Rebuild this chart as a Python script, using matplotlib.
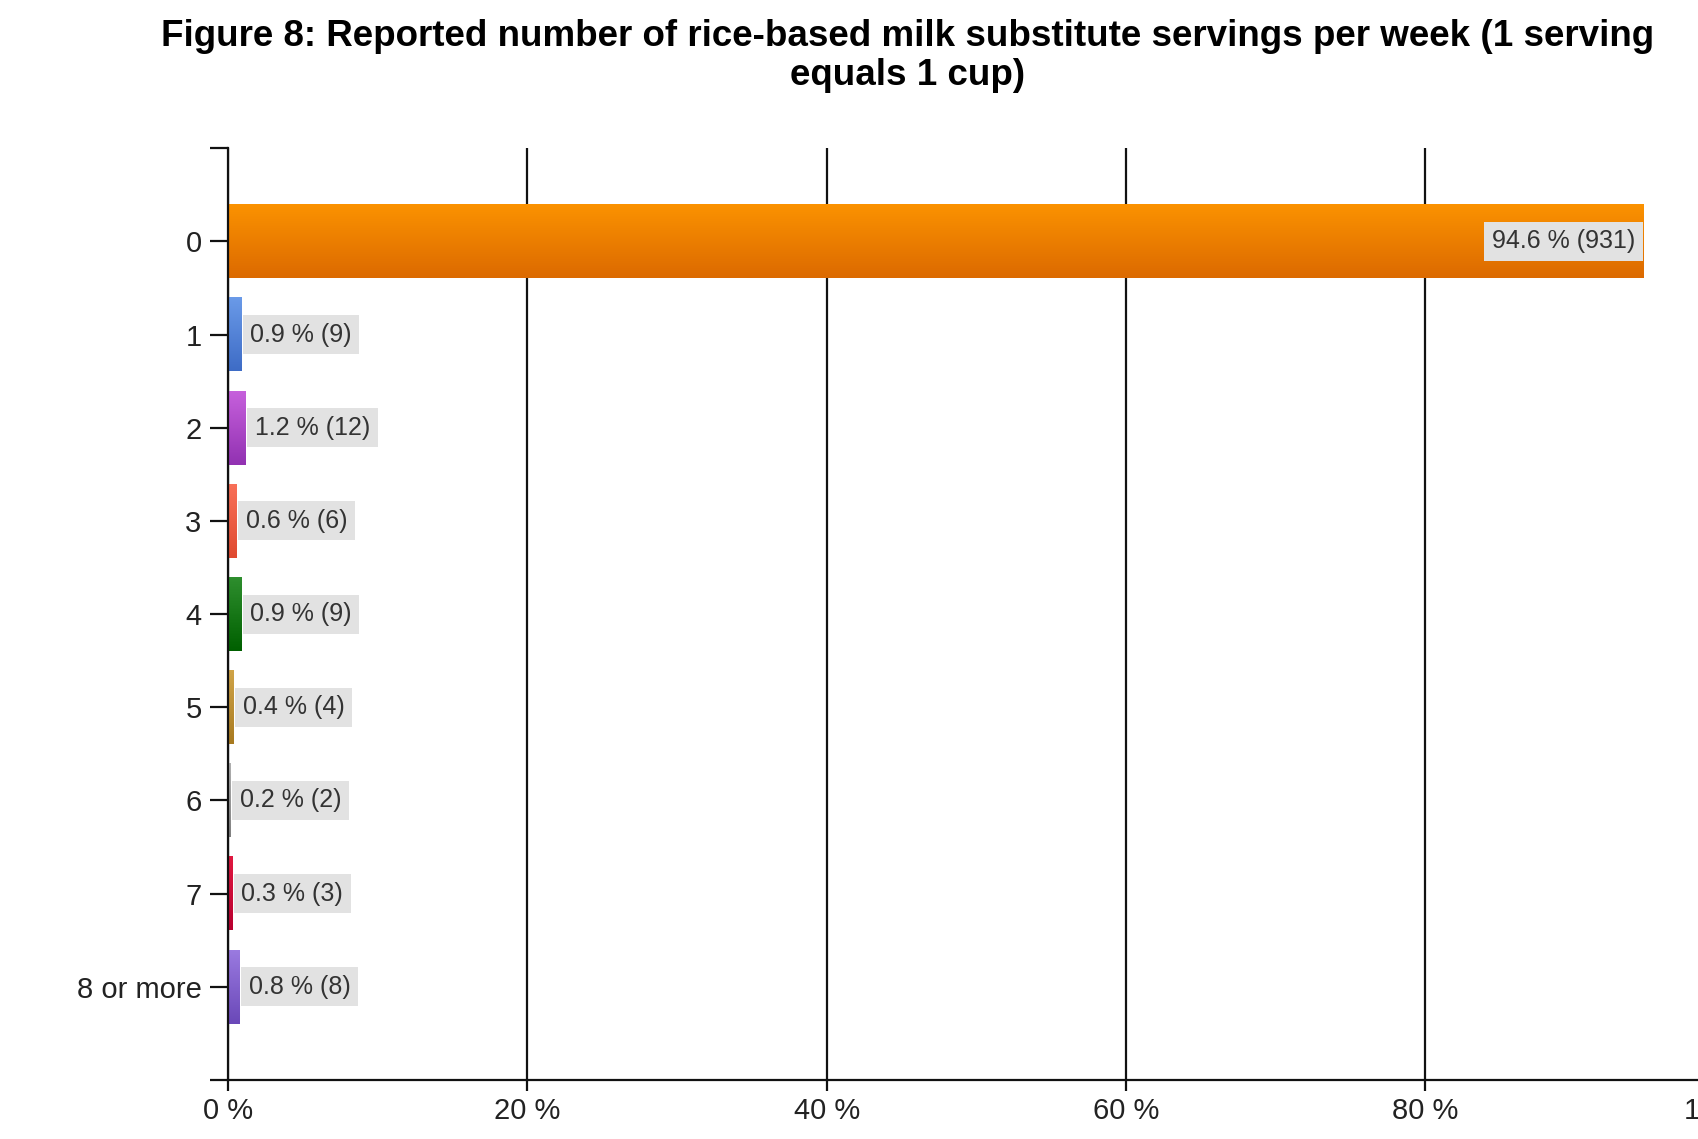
import numpy as np
import matplotlib
matplotlib.use("Agg")
import matplotlib.pyplot as plt
from matplotlib.colors import LinearSegmentedColormap

plt.rcParams['font.family'] = ['Liberation Sans', 'DejaVu Sans']

# -------------------
# DATA
# -------------------
categories = ["0", "1", "2", "3", "4", "5", "6", "7", "8 or more"]
percents = [94.6, 0.9, 1.2, 0.6, 0.9, 0.4, 0.2, 0.3, 0.8]
counts = [931, 9, 12, 6, 9, 4, 2, 3, 8]
xticks = [0, 20, 40, 60, 80, 100]

# top / bottom colours of each bar gradient
top_colors = ["#fb9200", "#6a9ae8", "#c660dc", "#f87058", "#2e8e2e",
              "#d0a448", "#b0b0b0", "#e01840", "#9a7ae0"]
bot_colors = ["#dc6a00", "#3e6cc6", "#9232b2", "#e04a30", "#006000",
              "#a87a20", "#808080", "#b80030", "#6a48b8"]

title = ("Figure 8: Reported number of rice-based milk substitute servings per week (1 serving\n"
         "equals 1 cup)")

# -------------------
# FIGURE
# -------------------
fig = plt.figure(figsize=(16.99, 11.39), dpi=100)
ax = fig.add_axes([0.1342, 0.0518, 0.881, 0.818])

bar_h = 0.79
lab_fs = 18
pad = 0.3
y = np.arange(len(categories))

for i, (p, n) in enumerate(zip(percents, counts)):
    cmap = LinearSegmentedColormap.from_list("g", [top_colors[i], bot_colors[i]])
    grad = np.linspace(0, 1, 64).reshape(-1, 1)
    ax.imshow(grad, cmap=cmap, aspect="auto", interpolation="bilinear",
              extent=(0, p, i + bar_h / 2, i - bar_h / 2), zorder=3)
    label = f"{p} % ({n})"
    if p > 50:
        ax.annotate(label, (p, i), xytext=(-pad * lab_fs - 1, 0),
                    textcoords="offset points", ha="right", va="center",
                    fontsize=lab_fs, color="#333333", zorder=5,
                    bbox=dict(boxstyle=f"square,pad={pad}", fc="#e2e2e2", ec="none"))
    else:
        ax.annotate(label, (p, i), xytext=(pad * lab_fs + 1, 0),
                    textcoords="offset points", ha="left", va="center",
                    fontsize=lab_fs, color="#333333", zorder=5,
                    bbox=dict(boxstyle=f"square,pad={pad}", fc="#e2e2e2", ec="none"))

ax.set_xlim(0, 100)
ax.set_ylim(len(categories), -1)

ax.set_yticks(y)
ax.set_yticklabels(categories, fontsize=21, color="#222222")
ax.set_yticks([-1, len(categories)], minor=True)
ax.tick_params(axis="y", which="both", length=13, width=1.6, color="#111111", pad=6)

ax.set_xticks(xticks)
ax.set_xticklabels([f"{t} %" for t in xticks], fontsize=21, color="#222222")
ax.tick_params(axis="x", length=8, width=1.6, color="#111111", pad=4)

ax.xaxis.grid(True, color="#111111", linewidth=1.6, zorder=1)
ax.set_axisbelow(True)

for side in ["top", "right"]:
    ax.spines[side].set_visible(False)
for side in ["left", "bottom"]:
    ax.spines[side].set_linewidth(1.6)
    ax.spines[side].set_color("#111111")
    ax.spines[side].set_zorder(4)

fig.text(0.534, 0.983, title, ha="center", va="top", fontsize=26.5,
         fontweight="bold", color="#000000", linespacing=1.12)

fig.savefig("out.png", dpi=100)
